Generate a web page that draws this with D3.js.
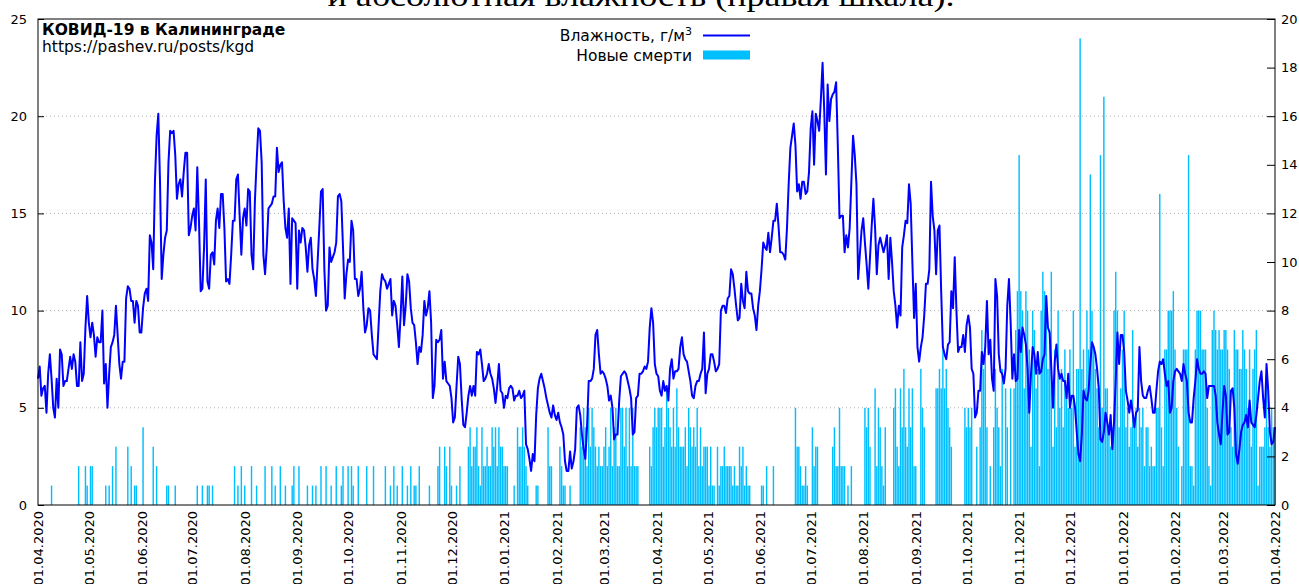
<!DOCTYPE html>
<html>
<head>
<meta charset="utf-8">
<script src="https://cdn.jsdelivr.net/npm/d3@7/dist/d3.min.js"></script>
<style>
  body { margin: 0; background: #fff; }
  svg { display: block; }
</style>
</head>
<body>
<svg id="chart"></svg>
<script>
// Kaliningrad, daily values 01.04.2020 .. 01.04.2022
const startDate = '2020-04-01';
const endDate = '2022-04-01';

const seriesNames = ['Влажность, г/м', 'Новые смерти'];
const leftTicks = [0, 5, 10, 15, 20, 25];
const rightTicks = [0, 2, 4, 6, 8, 10, 12, 14, 16, 18, 20];

// absolute humidity, g/m3 (right scale)
const humidity = [
  5.2,5.7,4.5,4.8,4.9,3.8,5.4,6.2,5.2,4.0, 3.6,5.2,4.0,6.4,6.2,4.9,5.1,5.1,5.6,6.1,
  5.6,6.2,5.9,4.9,4.9,6.7,5.1,5.4,7.3,8.6, 7.5,6.9,7.5,7.0,6.1,6.9,6.7,6.7,8.0,5.0,
  5.8,4.0,5.4,6.5,6.7,7.0,8.2,7.0,5.8,5.2, 5.9,5.9,8.5,9.0,8.9,8.4,8.4,7.5,8.4,8.2,
  7.1,7.1,8.1,8.7,8.9,8.4,11.1,10.8,9.7,13.3, 15.2,16.1,13.3,9.3,10.3,11.0,11.3,14.1,15.4,15.3,
  15.4,14.4,12.6,13.2,13.4,12.7,13.7,14.5,14.5,11.1, 11.4,11.9,12.2,
  11.3,13.9,11.7,8.8,8.9,10.6,13.4,9.2,8.9,10.3, 10.4,9.9,11.7,12.2,11.4,12.8,12.8,11.4,9.2,9.3,
  9.1,10.3,11.7,11.7,13.4,13.6,11.9,10.3,11.8,12.2, 11.5,13.0,12.9,10.3,9.7,12.5,14.1,15.5,15.4,14.1,
  10.3,9.5,10.6,12.2,12.3,12.4,12.7,12.7,14.7,13.7, 14.0,14.1,12.5,11.4,11.0,12.2,9.1,11.8,11.7,11.6,
  8.9,11.3,10.8,11.4,11.3,10.6,9.6,10.7,11.0,9.7, 9.3,8.6,10.0,11.4,12.9,13.0,9.7,8.0,8.2,10.6,
  10.0,10.2,10.4,10.8,12.7,12.8,12.5,10.6,8.5,9.5, 10.1,10.0,
  11.7,11.3,9.3,9.3,8.6,8.9,9.6,8.1,7.1,7.4, 8.1,8.0,7.0,6.2,6.1,6.0,7.4,8.8,9.5,9.3,
  9.2,8.9,9.1,9.3,7.8,8.4,8.2,7.4,6.5,7.8, 9.4,7.4,8.2,9.5,9.2,8.1,7.5,7.4,6.7,5.8,
  6.5,6.3,7.0,8.4,7.8,8.1,8.8,7.5,4.4,4.9, 6.8,6.7,6.8,7.2,5.2,5.9,5.1,5.0,4.9,4.4,
  3.4,3.6,4.9,6.1,5.8,4.4,3.3,3.2,3.8,4.5, 4.9,4.5,4.9,4.5,6.3,6.2,6.4,5.8,5.1,5.2,
  5.4,5.8,5.4,5.2,4.8,4.2,4.9,5.8,4.7,4.6, 4.0,4.5,
  4.4,4.8,4.9,4.8,4.3,4.5,4.5,4.7,4.4,4.5, 4.7,2.5,2.3,1.9,1.4,2.1,1.8,3.7,4.8,5.2,
  5.4,5.1,4.8,4.4,4.1,3.8,3.6,4.1,3.7,3.5, 3.8,3.4,3.2,2.9,1.8,1.4,1.4,2.2,1.5,1.8,
  2.3,4.0,4.1,3.7,2.9,2.3,1.9,3.2,5.1,5.1, 5.2,5.6,7.0,7.2,6.2,5.4,5.5,5.4,5.2,4.9,
  4.3,4.5,4.0,2.7,2.9,2.9,4.3,5.3,5.4, 5.5,5.4,5.1,4.8,4.4,2.9,3.0,4.4,4.5,5.4,
  5.4,5.5,5.7,5.6,5.9,7.3,8.1,7.5,5.8,5.4, 5.3,4.7,
  4.5,5.1,4.7,4.9,4.3,5.6,6.0,5.2,5.5,5.5, 5.6,6.5,6.9,6.2,6.0,5.9,5.5,5.1,4.5,4.4,
  4.9,5.1,5.1,5.4,5.6,7.1,4.6,5.4,5.6,6.2, 6.2,5.9,5.5,5.6,5.8,8.0,8.2,8.2,7.9,8.5,
  8.6,9.7,9.5,8.9,8.2,7.6,7.7,9.1,8.4,8.1, 9.6,8.8,8.7,8.7,8.1,7.8,7.2,8.2,8.8,9.7,
  10.8,10.6,10.5,11.2,10.4,11.0,11.7,11.7,12.4,11.5, 10.4,10.4,10.3,10.1,11.4,13.2,14.7,15.2,15.7,14.8,
  12.9,13.2,12.6,13.3,13.3,12.8,12.9,13.7,15.5,16.2, 14.0,16.1,
  15.8,15.4,16.7,18.2,16.2,13.6,17.3,15.8,16.7,16.9, 17.0,17.4,14.8,11.8,11.9,11.9,10.4,11.1,10.6,11.4,
  13.3,15.2,14.4,13.2,9.3,10.3,11.3,11.8,10.8,9.9, 8.9,10.2,11.5,12.6,11.4,9.5,10.7,11.0,10.7,10.4,
  10.7,11.1,9.3,11.0,10.0,8.8,8.2,7.3,8.2, 7.8,10.6,11.1,11.7,11.6,13.2,12.4,10.0,7.7,9.1,
  6.5,5.9,6.5,6.9,7.8,9.1,9.1,9.7,13.3,11.9, 11.3,9.5,11.3,11.5,8.8,6.5,6.2,6.0,6.6,6.7,
  8.8,8.1,10.2,8.0,6.3,6.5,6.5,7.0,6.3,7.4, 7.8,7.3,
  5.6,5.4,3.6,3.8,4.7,4.7,6.3,5.8,6.5,8.4, 6.2,6.8,5.2,4.7,9.3,8.6,6.2,5.5,5.4,5.0,
  5.6,8.2,9.3,7.5,5.2,6.2,5.1,5.2,7.2,6.3, 7.3,7.0,6.6,5.6,3.8,5.4,6.5,6.2,5.4,6.3,
  5.4,5.5,6.0,6.2,8.6,7.3,7.1,5.6,4.0,5.9, 6.6,5.6,5.2,5.4,5.1,5.1,4.4,5.4,4.0,4.5,
  4.5,4.0,3.0,2.1,1.8,2.9,4.7,4.4,4.3,4.7, 5.8,6.7,6.5,6.2,5.6,4.8,2.7,2.6,3.0,3.8,
  3.4,2.9,3.7,2.3,3.4,5.1,7.1,5.8,7.0,7.0, 6.3,4.7,
  4.3,3.8,4.3,3.8,3.2,3.8,3.9,6.5,5.1,4.5, 4.4,4.4,4.7,4.9,4.4,3.8,3.8,4.7,5.5,5.9,
  5.8,6.0,5.4,4.9,5.1,3.8,4.0,5.1,5.5,5.6, 5.5,5.4,5.1,5.8,5.4,5.1,3.8,3.4,3.4,4.4,
  5.1,6.0,5.6,5.4,5.4,5.5,5.4,4.4,4.9,4.9, 4.9,4.9,4.5,3.4,2.9,2.5,3.8,4.9,4.5,2.9,
  3.0,4.7,4.8,4.0,2.1,1.7,2.3,3.0,3.3,3.4, 3.7,3.2,4.3,3.4,3.3,3.2,3.7,4.4,5.1,5.5,
  4.4,3.6,5.8,4.7,3.0,2.5,2.6,3.2
];

// new deaths per day (left scale)
const deaths = [
  0,0,0,0,0,0,0,0,1,0, 0,0,0,0,0,0,0,0,0,0, 0,0,0,0,2,0,0,0,2,1, 0,2,2,0,0,0,0,0,0,0,
  1,0,1,0,2,0,3,0,0,0, 0,0,0,3,0,2,0,1,1,0, 0,0,4,0,0,0,0,0,3,0, 2,0,0,0,0,0,1,1,0,0,
  0,1,0,0,0,0,0,0,0,0, 0,0,0,0,1,0,0,1,0,0, 1,1,0,1,0,0,0,0,0,0, 0,0,0,0,0,0,2,0,1,0,
  2,0,1,0,0,0,2,0,0,1, 0,0,0,0,2,0,0,0,2,0, 1,0,0,2,0,0,1,0,0,0, 1,2,0,0,2,0,0,0,0,1,
  0,0,1,0,1,0,0,2,0,0, 2,0,0,1,0,0,2,0,0,1, 2,0,0,2,0,2,1,0,0,2, 0,0,0,0,2,0,0,0,2,0,
  0,0,0,0,0,2,0,0,1,0, 2,0,1,0,0,2,0,0,1,0, 2,0,1,1,0,2,0,0,0,0, 0,1,0,0,0,0,2,3,0,0,
  3,2,0,3,1,0,0,1,0,2, 0,0,0,0,3,4,2,3,3,4, 2,1,4,2,2,3,2,2,4,3, 4,2,4,3,3,2,2,2,0,0,
  0,1,0,4,3,3,4,3,2,1, 0,0,0,0,1,1,0,0,0,0, 0,4,2,2,0,0,0,0,3,2, 1,1,0,0,1,0,0,0,0,0,
  4,3,5,4,2,5,3,5,4,3, 2,3,2,2,3,4,2,3,5,2, 4,5,2,2,5,5,3,5,2,5, 2,5,2,2,2,0,0,0,0,0,
  0,3,2,4,5,4,5,5,5,3, 4,6,5,4,3,5,3,6,4,3, 3,3,4,2,5,4,3,4,3,5, 2,4,2,3,3,3,1,3,1,1,
  0,3,1,2,2,3,2,2,2,2, 1,2,1,1,3,2,3,1,2,1, 1,0,0,0,0,0,0,1,1,0, 2,0,0,0,2,0,0,0,0,0,
  0,0,0,0,0,0,0,5,3,3, 2,1,1,2,1,0,0,4,2,3, 3,0,0,0,0,0,0,0,0,3, 4,2,2,5,2,2,2,0,1,0,
  2,0,0,0,0,0,0,0,5,4, 5,3,0,0,6,2,5,4,2,1, 4,0,0,0,0,5,6,3,2,6, 4,7,4,3,6,4,6,2,2,0,
  0,7,5,4,0,0,0,0,0,0, 6,6,7,6,8,6,7,5,4,3, 0,0,0,0,0,0,0,5,4,5, 4,5,0,0,3,0,4,9,7,8,
  4,0,2,0,4,7,5,4,2,7, 0,6,4,0,6,0,6,9,11,18, 11,10,6,11,10,8,3,10,9,6, 7,2,10,12,11,10,7,9,12,3,
  8,4,10,5,7,4,8,6,5,8, 5,10,3,7,7,24,7,8,6,10, 8,17,10,8,7,6,4,18,5,21, 6,6,4,3,4,10,12,10,4,6,
  8,10,4,5,3,4,9,4,5,3, 5,4,5,2,4,4,2,3,2,2, 5,5,16,4,2,8,8,10,10,10, 11,8,5,3,0,2,8,8,8,18,
  2,2,1,8,10,10,10,8,8,8, 5,2,1,9,10,9,8,9,8,8, 9,9,8,7,4,3,9,8,8,7, 7,9,8,7,5,8,3,7,8,9,
  1,3,3,3,4,7,4,3,5,4, 4
];

const W = 1299, H = 584;
const L = 38, R = 1275, T = 19, B = 505;
const font = '"DejaVu Sans", sans-serif';

const svg = d3.select('#chart')
    .attr('width', W)
    .attr('height', H)
    .attr('viewBox', `0 0 ${W} ${H}`);

const parse = d3.timeParse('%Y-%m-%d');
const start = parse(startDate);
const end = parse(endDate);
const dates = humidity.map((_, i) => d3.timeDay.offset(start, i));

const x = d3.scaleTime().domain([start, end]).range([L, R]);
const yL = d3.scaleLinear().domain([0, 25]).range([B, T]);
const yR = d3.scaleLinear().domain([0, 20]).range([B, T]);

// page title above the plot, cut by the top edge
svg.append('text')
    .attr('x', 641)
    .attr('y', 6)
    .attr('text-anchor', 'middle')
    .attr('font-family', '"Liberation Serif", "DejaVu Serif", serif')
    .attr('font-size', 30)
    .attr('textLength', 627)
    .attr('lengthAdjust', 'spacingAndGlyphs')
    .text('и абсолютная влажность (правая шкала).');

// grid
svg.append('g')
    .selectAll('line')
    .data([5, 10, 15, 20])
    .join('line')
    .attr('x1', L).attr('x2', R)
    .attr('y1', d => yL(d)).attr('y2', d => yL(d))
    .attr('stroke', '#b0b0b0')
    .attr('stroke-width', 1)
    .attr('stroke-dasharray', '1,3');

// deaths bars
const dayW = x(d3.timeDay.offset(start, 1)) - x(start);
const barW = dayW * 0.85;

svg.append('g')
    .selectAll('rect')
    .data(deaths.map((v, i) => ({ date: dates[i], v })).filter(d => d.v > 0))
    .join('rect')
    .attr('x', d => x(d.date) - barW / 2)
    .attr('width', barW)
    .attr('y', d => yL(d.v))
    .attr('height', d => B - yL(d.v))
    .attr('fill', '#00bfff');

// humidity line
const line = d3.line()
    .x(d => x(d.date))
    .y(d => yR(d.v));

svg.append('path')
    .datum(humidity.map((v, i) => ({ date: dates[i], v })))
    .attr('d', line)
    .attr('fill', 'none')
    .attr('stroke', '#0000ff')
    .attr('stroke-width', 2)
    .attr('stroke-linejoin', 'round');

// axes
const leftAxis = svg.append('g')
    .attr('transform', `translate(${L},0)`)
    .call(d3.axisLeft(yL).tickValues(leftTicks).tickSize(-6).tickPadding(11));

const rightAxis = svg.append('g')
    .attr('transform', `translate(${R},0)`)
    .call(d3.axisRight(yR).tickValues(rightTicks).tickSize(-8).tickPadding(6));

const months = d3.timeMonth.range(start, d3.timeDay.offset(end, 1));
const bottomAxis = svg.append('g')
    .attr('transform', `translate(0,${B})`)
    .call(d3.axisBottom(x).tickValues(months).tickFormat(d3.timeFormat('%d.%m.%Y')).tickSize(0));

bottomAxis.selectAll('text')
    .attr('transform', 'rotate(-90)')
    .attr('text-anchor', 'end')
    .attr('x', -6)
    .attr('y', 0)
    .attr('dy', '0.36em');

[leftAxis, rightAxis, bottomAxis].forEach(g => {
    g.select('.domain').remove();
    g.selectAll('text')
        .attr('font-family', font)
        .attr('font-size', 13)
        .attr('fill', '#000');
    g.selectAll('.tick line').attr('stroke', '#000');
});

// frame
svg.append('rect')
    .attr('x', L).attr('y', T)
    .attr('width', R - L).attr('height', B - T)
    .attr('fill', 'none')
    .attr('stroke', '#000')
    .attr('stroke-width', 1);

// header inside the plot
svg.append('text')
    .attr('x', 42).attr('y', 35)
    .attr('font-family', font)
    .attr('font-size', 15.5)
    .attr('font-weight', 'bold')
    .text('КОВИД-19 в Калининграде');

svg.append('text')
    .attr('x', 42).attr('y', 52)
    .attr('font-family', font)
    .attr('font-size', 15.5)
    .text('https://pashev.ru/posts/kgd');

// legend
const legend = svg.append('g').attr('font-family', font).attr('font-size', 15.5);

const t1 = legend.append('text')
    .attr('x', 692).attr('y', 41)
    .attr('text-anchor', 'end');
t1.append('tspan').text(seriesNames[0]);
t1.append('tspan').attr('dy', -6).attr('font-size', 11).text('3');

legend.append('line')
    .attr('x1', 703).attr('x2', 750)
    .attr('y1', 35.5).attr('y2', 35.5)
    .attr('stroke', '#0000ff')
    .attr('stroke-width', 2);

legend.append('text')
    .attr('x', 692).attr('y', 61)
    .attr('text-anchor', 'end')
    .text(seriesNames[1]);

legend.append('rect')
    .attr('x', 703).attr('y', 50.5)
    .attr('width', 47).attr('height', 9)
    .attr('fill', '#00bfff');
</script>
</body>
</html>
